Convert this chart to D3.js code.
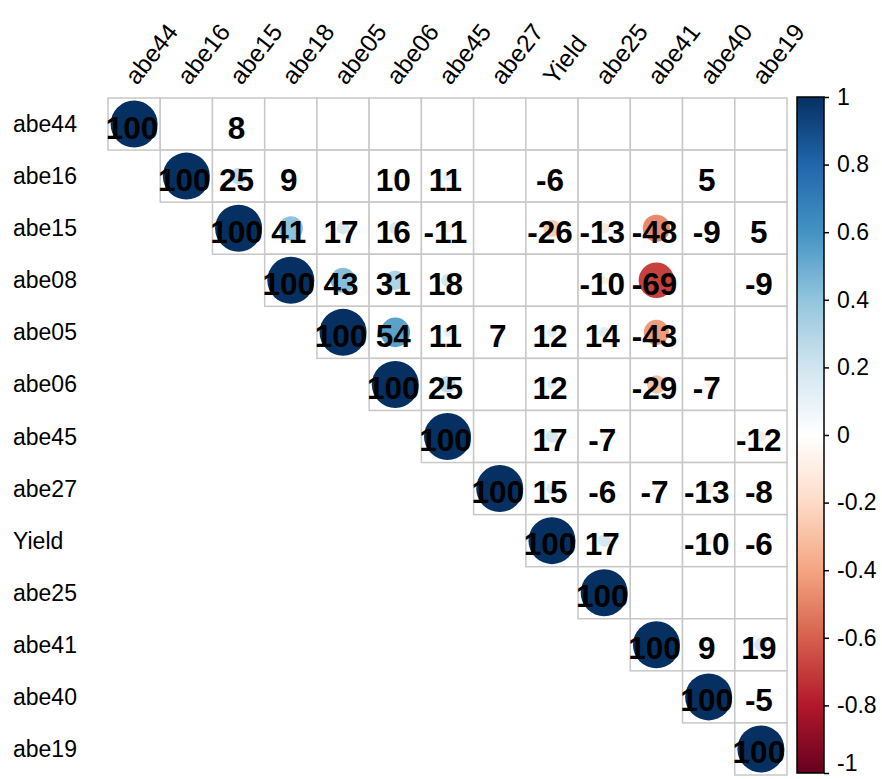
<!DOCTYPE html>
<html>
<head>
<meta charset="utf-8">
<script src="https://cdn.jsdelivr.net/npm/d3@7"></script>
<style>
  body { margin: 0; background: #fff; }
  svg { display: block; }
</style>
</head>
<body>
<svg id="chart" width="882" height="779"></svg>
<script>
// Variable names along the top and down the left side
const colLabels = ["abe44", "abe16", "abe15", "abe18", "abe05", "abe06", "abe45",
                   "abe27", "Yield", "abe25", "abe41", "abe40", "abe19"];
const rowLabels = ["abe44", "abe16", "abe15", "abe08", "abe05", "abe06", "abe45",
                   "abe27", "Yield", "abe25", "abe41", "abe40", "abe19"];

// Correlations x 100, upper triangle only; null = not significant (left blank)
const corr = [
  [100, null,    8, null, null, null, null, null, null, null, null, null, null],
  [null, 100,   25,    9, null,   10,   11, null,   -6, null, null,    5, null],
  [null, null, 100,   41,   17,   16,  -11, null,  -26,  -13,  -48,   -9,    5],
  [null, null, null, 100,   43,   31,   18, null, null,  -10,  -69, null,   -9],
  [null, null, null, null, 100,   54,   11,    7,   12,   14,  -43, null, null],
  [null, null, null, null, null, 100,   25, null,   12, null,  -29,   -7, null],
  [null, null, null, null, null, null, 100, null,   17,   -7, null, null,  -12],
  [null, null, null, null, null, null, null, 100,   15,   -6,   -7,  -13,   -8],
  [null, null, null, null, null, null, null, null, 100,   17, null,  -10,   -6],
  [null, null, null, null, null, null, null, null, null, 100, null, null, null],
  [null, null, null, null, null, null, null, null, null, null, 100,    9,   19],
  [null, null, null, null, null, null, null, null, null, null, null, 100,   -5],
  [null, null, null, null, null, null, null, null, null, null, null, null, 100]
];

// Diverging red-white-blue palette from -1 to 1
const paletteColors = ["#67001F", "#B2182B", "#D6604D", "#F4A582", "#FDDBC7", "#FFFFFF",
                       "#D1E5F0", "#92C5DE", "#4393C3", "#2166AC", "#053061"];
const legendTicks = [-1, -0.8, -0.6, -0.4, -0.2, 0, 0.2, 0.4, 0.6, 0.8, 1];

const FONT = "'Liberation Sans', Arial, Helvetica, sans-serif";
const svg = d3.select("#chart");
const n = colLabels.length;

const x = d3.scaleBand().domain(d3.range(n)).range([108, 787]);
const y = d3.scaleBand().domain(d3.range(n)).range([98, 775]);
const bw = x.bandwidth();
const bh = y.bandwidth();

const color = d3.scaleLinear()
  .domain(paletteColors.map((_, i) => -1 + i * 0.2))
  .range(paletteColors)
  .interpolate(d3.interpolateRgb);

// Circle radius grows with |r|; a full correlation fills 90% of the cell
const radius = d3.scalePow().exponent(0.75).domain([0, 100]).range([0, 0.45 * bw]);

// Flatten upper triangle into cell records
const cells = [];
corr.forEach((row, i) => row.forEach((v, j) => {
  if (j >= i) cells.push({ i, j, v });
}));

// Grid
svg.append("g").selectAll("rect")
  .data(cells)
  .join("rect")
  .attr("x", d => x(d.j))
  .attr("y", d => y(d.i))
  .attr("width", bw)
  .attr("height", bh)
  .attr("fill", "#fff")
  .attr("stroke", "#c8c8c8")
  .attr("stroke-width", 1.5);

const shown = cells.filter(d => d.v !== null);

// Circles
svg.append("g").selectAll("circle")
  .data(shown)
  .join("circle")
  .attr("cx", d => x(d.j) + bw / 2)
  .attr("cy", d => y(d.i) + bh / 2)
  .attr("r", d => radius(Math.abs(d.v)))
  .attr("fill", d => color(d.v / 100));

// Coefficient labels
svg.append("g").selectAll("text")
  .data(shown)
  .join("text")
  .attr("x", d => x(d.j) + bw / 2 - 2)
  .attr("y", d => y(d.i) + bh / 2 + 14.5)
  .attr("text-anchor", "middle")
  .attr("font-family", FONT)
  .attr("font-weight", "bold")
  .attr("font-size", 31.5)
  .attr("fill", "#000")
  .text(d => d.v);

// Row labels
svg.append("g").selectAll("text")
  .data(rowLabels)
  .join("text")
  .attr("x", 13)
  .attr("y", (d, i) => y(i) + bh / 2 + 8)
  .attr("font-family", FONT)
  .attr("font-size", 23)
  .attr("fill", "#000")
  .text(d => d);

// Column labels, slanted
svg.append("g").selectAll("text")
  .data(colLabels)
  .join("text")
  .attr("transform", (d, i) => `translate(${x(i) + bw / 2 + 3},${86}) rotate(-52)`)
  .attr("font-family", FONT)
  .attr("font-size", 24.5)
  .attr("fill", "#000")
  .text(d => d);

// Colour legend
const barX = 797, barW = 27, barTop = 97, barBottom = 773;
const ly = d3.scaleLinear().domain([-1, 1]).range([barBottom, barTop]);

const defs = svg.append("defs");
const grad = defs.append("linearGradient")
  .attr("id", "legendGrad")
  .attr("x1", 0).attr("y1", 1).attr("x2", 0).attr("y2", 0);
grad.selectAll("stop")
  .data(paletteColors)
  .join("stop")
  .attr("offset", (d, i) => i / (paletteColors.length - 1))
  .attr("stop-color", d => d);

svg.append("rect")
  .attr("x", barX)
  .attr("y", barTop)
  .attr("width", barW)
  .attr("height", barBottom - barTop)
  .attr("fill", "url(#legendGrad)")
  .attr("stroke", "#000")
  .attr("stroke-width", 1.5);

const legendAxis = d3.axisRight(ly)
  .tickValues(legendTicks)
  .tickSize(5)
  .tickPadding(8)
  .tickFormat(d => String(+d.toFixed(1)));

const lg = svg.append("g")
  .attr("transform", `translate(${barX + barW},0)`)
  .call(legendAxis);
lg.select(".domain").remove();
lg.selectAll(".tick line").attr("stroke", "#000").attr("stroke-width", 1.5);
lg.selectAll(".tick text")
  .attr("font-family", FONT)
  .attr("font-size", 23)
  .attr("fill", "#000")
  .attr("dy", d => d === -1 ? "-0.1em" : "0.32em");
</script>
</body>
</html>
